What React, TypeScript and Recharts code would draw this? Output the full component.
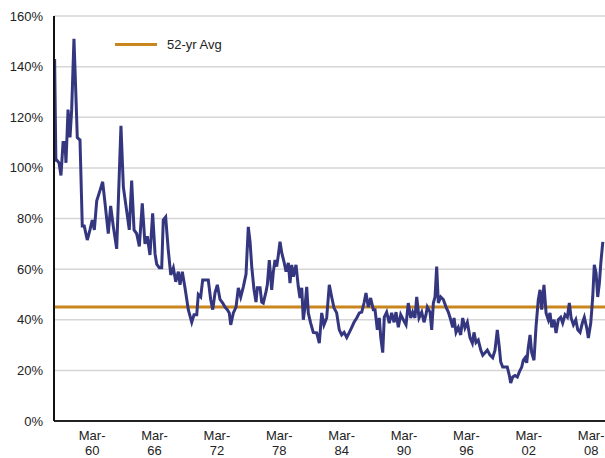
import React from "react";
import { LineChart, Line, XAxis, YAxis, CartesianGrid, ReferenceLine, Legend } from "recharts";

// decimal year of each reading
const years = [
  1956.56, 1956.68, 1956.78, 1956.98, 1957.17, 1957.37, 1957.56, 1957.65, 1957.85, 1958.04,
  1958.2, 1958.42, 1958.62, 1958.74, 1959.0, 1959.22, 1959.41, 1959.7, 1959.96, 1960.18,
  1960.38, 1960.61, 1960.92, 1961.18, 1961.41, 1961.72, 1961.95, 1962.2, 1962.53, 1962.94,
  1963.17, 1963.49, 1963.74, 1963.97, 1964.2, 1964.45, 1964.71, 1964.99, 1965.25, 1965.47,
  1965.73, 1965.99, 1966.22, 1966.38, 1966.63, 1966.86, 1967.01, 1967.24, 1967.49, 1967.73,
  1967.98, 1968.21, 1968.46, 1968.62, 1968.84, 1969.1, 1969.42, 1969.75, 1969.97, 1970.23,
  1970.38, 1970.61, 1970.8, 1971.12, 1971.34, 1971.57, 1971.77, 1971.99, 1972.21, 1972.47,
  1972.73, 1972.95, 1973.17, 1973.36, 1973.5, 1973.75, 1974.01, 1974.23, 1974.46, 1974.71,
  1974.97, 1975.19, 1975.36, 1975.52, 1975.74, 1975.93, 1976.06, 1976.32, 1976.48, 1976.63,
  1976.89, 1977.02, 1977.21, 1977.44, 1977.6, 1977.76, 1977.92, 1978.08, 1978.24, 1978.41,
  1978.63, 1978.82, 1979.04, 1979.2, 1979.37, 1979.52, 1979.78, 1980.0, 1980.16, 1980.33,
  1980.48, 1980.64, 1980.81, 1980.96, 1981.19, 1981.44, 1981.77, 1982.02, 1982.25, 1982.47,
  1982.73, 1982.98, 1983.21, 1983.43, 1983.69, 1983.94, 1984.17, 1984.4, 1984.66, 1984.91,
  1985.14, 1985.36, 1985.62, 1985.87, 1986.1, 1986.32, 1986.51, 1986.73, 1986.96, 1987.21,
  1987.38, 1987.6, 1987.79, 1987.93, 1988.12, 1988.27, 1988.5, 1988.75, 1988.98, 1989.21,
  1989.4, 1989.62, 1989.85, 1990.1, 1990.36, 1990.58, 1990.81, 1991.0, 1991.22, 1991.39,
  1991.61, 1991.87, 1992.09, 1992.28, 1992.41, 1992.67, 1992.83, 1992.99, 1993.15, 1993.31,
  1993.47, 1993.7, 1993.95, 1994.21, 1994.43, 1994.66, 1994.85, 1994.98, 1995.17, 1995.39,
  1995.62, 1995.81, 1996.03, 1996.26, 1996.51, 1996.74, 1996.9, 1997.09, 1997.31, 1997.55,
  1997.74, 1997.96, 1998.18, 1998.44, 1998.7, 1998.92, 1999.14, 1999.34, 1999.47, 1999.66,
  1999.88, 2000.1, 2000.3, 2000.43, 2000.62, 2000.84, 2001.07, 2001.26, 2001.49, 2001.64,
  2001.81, 2001.97, 2002.12, 2002.29, 2002.45, 2002.67, 2002.86, 2003.08, 2003.25, 2003.41,
  2003.63, 2003.83, 2004.05, 2004.21, 2004.38, 2004.6, 2004.79, 2005.01, 2005.24, 2005.43,
  2005.66, 2005.88, 2006.07, 2006.24, 2006.46, 2006.69, 2006.88, 2007.1, 2007.32, 2007.51,
  2007.74, 2007.9, 2008.13, 2008.32, 2008.47, 2008.64, 2008.8, 2008.96, 2009.1, 2009.29,
];

// percent
const ratio = [
  143, 103, 103, 102, 97, 110, 110, 102, 123, 112,
  123, 151, 127, 112, 111, 77, 77, 71.5, 75.5, 79.4,
  75.5, 87, 91, 94.5, 86, 74, 85, 77, 68, 116.6,
  92.5, 83, 75.5, 95, 75.5, 74, 69, 86, 70, 73,
  65.6, 82, 66, 62, 60.5, 60.5, 79.4, 80.6, 67.6, 57.7,
  60.5, 55, 59, 53.8, 59, 52.6, 44, 39, 42, 42,
  50, 49, 55.7, 55.7, 55.7, 48, 44, 50.6, 53.8, 48,
  46.6, 45, 44, 42.7, 38, 42.7, 45, 52.6, 49, 53,
  58, 76.7, 70.8, 61, 51.8, 47, 52.6, 52.6, 47, 46.6,
  51, 53.8, 63.6, 51.8, 59, 63.6, 61, 65.6, 70.8, 66.4,
  62.8, 59, 62.5, 54.5, 61.7, 57, 61.7, 53, 48.6, 52.6,
  40, 45, 53, 42.7, 38.7, 35, 34.8, 30.8, 42.7, 38,
  40.7, 53.8, 49, 44.7, 42.7, 36, 34, 35, 33, 35,
  37, 39, 40.7, 42.7, 43, 46.6, 50.6, 45, 48.6, 44,
  44, 36, 40.7, 33, 27, 41, 43, 38.7, 42.7, 39,
  43, 37, 42, 40, 38, 46.6, 40.7, 43, 40.7, 49,
  40.7, 43, 39, 42, 45, 43, 36, 46.6, 49, 61,
  46.6, 49, 48, 45, 43, 40, 37, 40.7, 35, 37,
  34, 40.7, 36.8, 39, 33, 30.8, 35, 31, 32, 28,
  26, 27, 28, 26, 25, 28, 36, 28.9, 23.3, 21.3,
  21.3, 21.3, 18, 15, 17.4, 18, 17.4, 19.4, 21.3, 24,
  25, 23, 29, 34, 27, 24, 37, 47.8, 51.8, 44,
  53.8, 42.7, 40, 42.7, 37, 40, 34.8, 40, 41, 38.7,
  42, 41, 46.6, 40.7, 38, 40, 36, 35, 38.7, 41,
  36.8, 32.8, 38.7, 49, 61.7, 58.5, 49, 54.5, 62.5, 70.8,
];

const tickYears = [1960.17, 1966.17, 1972.17, 1978.17, 1984.17, 1990.17, 1996.17, 2002.17, 2008.17];
const tickLabels = ["60", "66", "72", "78", "84", "90", "96", "02", "08"];
const yTicks = [0, 20, 40, 60, 80, 100, 120, 140, 160];

const AVG = 45;
const AVG_LABEL = "52-yr Avg";

const NAVY = "#343780";
const GOLD = "#c8861c";
const FONT = "'Liberation Sans', Arial, sans-serif";

type Point = { t: number; v: number };
const data: Point[] = years.map((t, i) => ({ t, v: ratio[i] }));

const MarTick = (props: any) => {
  const { x, y, payload } = props;
  const yy = tickLabels[tickYears.indexOf(payload.value)];
  return (
    <text x={x} y={y} textAnchor="middle" fontSize={13} fill="#222" fontFamily={FONT}>
      <tspan x={x} dy={19}>Mar-</tspan>
      <tspan x={x} dy={15}>{yy}</tspan>
    </text>
  );
};

const AvgLegend = () => (
  <div style={{ display: "flex", alignItems: "center", fontFamily: FONT, fontSize: 13, color: "#222" }}>
    <span style={{ display: "inline-block", width: 42, height: 3, background: GOLD, marginRight: 10 }} />
    {AVG_LABEL}
  </div>
);

const App = () => {
  return (
    <div style={{ position: "absolute", left: 0, top: 0 }}>
      <LineChart width={605} height={458} data={data} margin={{ top: 16, right: 0, left: 0, bottom: 0 }}>
        <CartesianGrid horizontal vertical={false} stroke="#d6d6d6" strokeWidth={1.5} />
        <XAxis
          type="number"
          dataKey="t"
          domain={[1956.5, 2009.5]}
          ticks={tickYears}
          interval={0}
          tick={<MarTick />}
          tickLine={false}
          tickSize={0}
          tickMargin={0}
          height={37}
          axisLine={{ stroke: "#222", strokeWidth: 2 }}
          allowDataOverflow
        />
        <YAxis
          domain={[0, 160]}
          ticks={yTicks}
          interval={0}
          tickFormatter={(v: number) => `${v}%`}
          tick={{ fontSize: 13, fill: "#222", fontFamily: FONT }}
          tickLine={false}
          tickSize={0}
          tickMargin={11}
          width={54}
          axisLine={{ stroke: "#111", strokeWidth: 2 }}
        />
        <Legend
          layout="vertical"
          align="center"
          verticalAlign="middle"
          content={<AvgLegend />}
          wrapperStyle={{ position: "absolute", left: 115, top: 37, width: "auto", height: 16 }}
        />
        <ReferenceLine y={AVG} stroke={GOLD} strokeWidth={3} />
        <Line
          type="linear"
          dataKey="v"
          stroke={NAVY}
          strokeWidth={3}
          dot={false}
          isAnimationActive={false}
        />
      </LineChart>
    </div>
  );
};

export default App;
